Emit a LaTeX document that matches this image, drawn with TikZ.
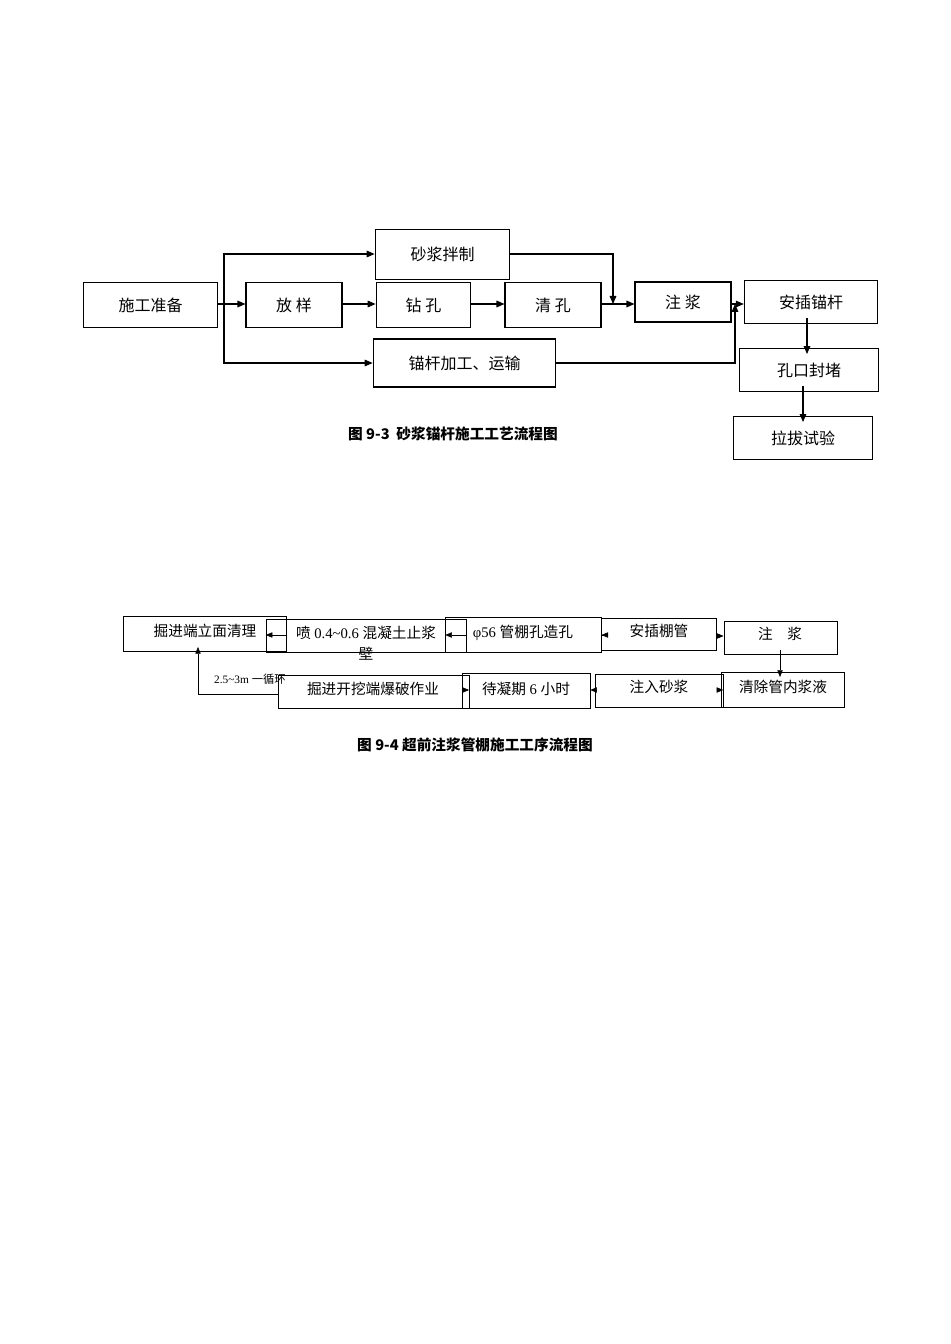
\documentclass[tikz,border=0pt]{standalone}
\usepackage{fontspec}
\setmainfont{Liberation Serif}
\newfontfamily\cjk{Noto Sans CJK SC}
\usetikzlibrary{arrows.meta}
\newcommand\myBig[6]{\node[bx,minimum width=#4-#2,minimum height=#5-#3] (#1) at ({(#2+#4)/2},{(#3+#5)/2}) {#6};}
\newcommand\mySmall[5]{\node[sb,minimum width=#4-#2,minimum height=#5-#3] (#1) at ({(#2+#4)/2},{(#3+#5)/2}) {};}
\newcommand\myTxt[4]{\node[inner sep=0,font=\fontsize{11}{12}\selectfont] (#1) at (#2,#3) {#4};}
\begin{document}
\begin{tikzpicture}[x=0.75pt,y=-0.75pt,
  bx/.style={draw,thick,inner sep=0,font=\cjk\fontsize{12}{14}\selectfont},
  sb/.style={draw,inner sep=0},
  ar/.style={thick,-{Triangle[length=6pt,width=5pt]}},
  ar2/.style={-{Triangle[length=5pt,width=4pt]}}]
\useasboundingbox (0,0) rectangle (950,1344);
\fill[white] (0,0) rectangle (950,1344);
\myBig{a}{100}{288}{201}{322}{施工准备}
\myBig{b}{258}{288}{330}{322}{放 样}
\myBig{c}{388}{288}{459}{322}{钻 孔}
\myBig{d}{517}{288}{589}{322}{清 孔}
\myBig{e}{647}{287}{719}{317}{注 浆}
\myBig{f}{761}{286}{861}{318}{安插锚杆}
\myBig{g}{392}{236}{493}{273}{砂浆拌制}
\myBig{h}{396}{345}{533}{381}{锚杆加工、运输}
\myBig{i}{757}{354}{861}{386}{孔口封堵}
\myBig{j}{751}{422}{855}{454}{拉拔试验}
\coordinate (br) at (224,304);
\draw[ar] (a.east|-br) -- (b.west|-br);
\draw[ar] (b.east|-br) -- (c.west|-br);
\draw[ar] (c.east|-br) -- (d.west|-br);
\draw[ar] (d.east|-br) -- (e.west|-br);
\draw[ar] (br) -- (224,254) -- (g.west|-{(0,254)});
\draw[ar] (br) -- (224,363) -- (h.west|-{(0,363)});
\draw[ar] (g.east|-{(0,254)}) -- (613,254) -- (613,304);
\draw[ar] (e.east|-br) -- (f.west|-br);
\draw[ar] (h.east|-{(0,363)}) -- (735,363) -- (735,304);
\draw[ar] (807,318) -- (807,354);
\draw[ar] (803,386) -- (803,422);
\node[font=\cjk\bfseries\fontsize{11}{13}\selectfont] (c1) at (453,434) {图 9-3\ \ 砂浆锚杆施工工艺流程图};
\mySmall{p}{144}{621}{266}{647}
\mySmall{q}{291}{623}{441}{648}
\mySmall{r}{465}{622}{582}{648}
\mySmall{s}{616}{622}{702}{646}
\mySmall{t}{738}{625}{823}{650}
\mySmall{u}{737}{677}{829}{703}
\mySmall{v}{611}{678}{707}{703}
\mySmall{w}{478}{678}{574}{704}
\mySmall{x}{302}{679}{445}{704}
\myTxt{tp}{205}{631}{\cjk 掘进端立面清理}
\myTxt{tq}{366}{633}{{\cjk 喷} 0.4\textasciitilde0.6 {\cjk 混凝土止浆}}
\myTxt{tq2}{366}{654}{\cjk 壁}
\myTxt{tr}{523}{633}{φ56 {\cjk 管棚孔造孔}}
\myTxt{ts}{659}{631}{\cjk 安插棚管}
\myTxt{tt}{780}{634}{\cjk 注\quad 浆}
\myTxt{tu}{783}{687}{\cjk 清除管内浆液}
\myTxt{tv}{659}{687}{\cjk 注入砂浆}
\myTxt{tw}{526}{689}{{\cjk 待凝期} 6 {\cjk 小时}}
\myTxt{tx}{373}{689}{\cjk 掘进开挖端爆破作业}
\node[inner sep=0,font=\fontsize{8.5}{10}\selectfont] (lb) at (250,679) {2.5\textasciitilde3m {\cjk 一循环}};
\draw[ar2] (p.east|-{(0,635)}) -- (q.west|-{(0,635)});
\draw[ar2] (q.east|-{(0,635)}) -- (r.west|-{(0,635)});
\draw[ar2] (r.east|-{(0,635)}) -- (s.west|-{(0,635)});
\draw[ar2] (s.east|-{(0,636)}) -- (t.west|-{(0,636)});
\draw[ar2] (780,650) -- (780,677);
\draw[ar2] (u.west|-{(0,690)}) -- (v.east|-{(0,690)});
\draw[ar2] (v.west|-{(0,690)}) -- (w.east|-{(0,690)});
\draw[ar2] (w.west|-{(0,690)}) -- (x.east|-{(0,690)});
\draw[ar2] (x.west|-{(0,694)}) -- (198,694) -- (198,647);
\node[font=\cjk\bfseries\fontsize{11}{13}\selectfont] (c2) at (475,745) {图 9-4 超前注浆管棚施工工序流程图};
\end{tikzpicture}
\end{document}
